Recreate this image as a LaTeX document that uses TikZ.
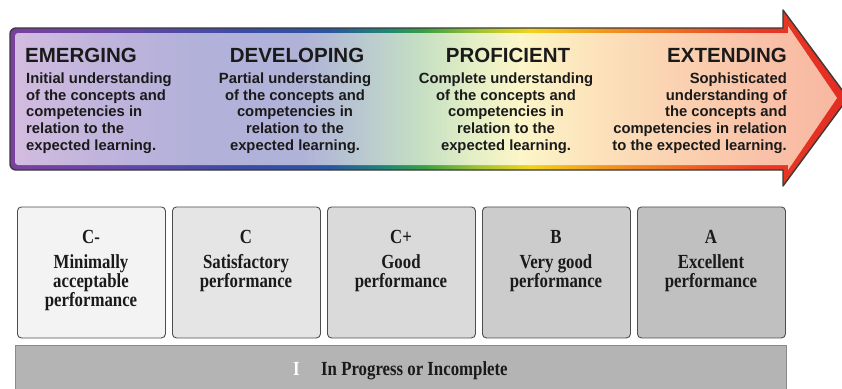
\documentclass[tikz,border=0pt]{standalone}
\usepackage{fontspec}
\setmainfont{Liberation Sans}
\newfontfamily\boxfont[FakeStretch=0.84]{Liberation Serif}
% rainbow border colours
\definecolor{r1}{HTML}{7B3F9E}
\definecolor{r2}{HTML}{6646A6}
\definecolor{r3}{HTML}{3A4CA3}
\definecolor{r4}{HTML}{2A56A0}
\definecolor{r5}{HTML}{1F8A70}
\definecolor{r6}{HTML}{3AA043}
\definecolor{r7}{HTML}{A2C332}
\definecolor{r8}{HTML}{F2D31B}
\definecolor{r9}{HTML}{F29A1E}
\definecolor{r10}{HTML}{EE6A24}
\definecolor{r11}{HTML}{E83A25}
\definecolor{r12}{HTML}{E32B22}
% pastel fill colours
\definecolor{p1}{HTML}{D6BDE0}
\definecolor{p2}{HTML}{C0B4DC}
\definecolor{p3}{HTML}{B2B1DA}
\definecolor{p4}{HTML}{B0B2D8}
\definecolor{p5}{HTML}{B9C8D0}
\definecolor{p6}{HTML}{C5DFC3}
\definecolor{p7}{HTML}{E2EEC5}
\definecolor{p8}{HTML}{FCF6C9}
\definecolor{p9}{HTML}{FCE6BE}
\definecolor{p10}{HTML}{FBD5B3}
\definecolor{p11}{HTML}{F9C2A8}
\definecolor{p12}{HTML}{F8B6A0}
\definecolor{textcol}{HTML}{1A1A1A}
\definecolor{outl}{HTML}{3A3A3A}
\definecolor{g1}{HTML}{F3F3F3}
\definecolor{g2}{HTML}{E5E5E5}
\definecolor{g3}{HTML}{DADADA}
\definecolor{g4}{HTML}{CCCCCC}
\definecolor{g5}{HTML}{C1C0C0}
\definecolor{boxline}{HTML}{4D4D4D}
\definecolor{barfill}{HTML}{B4B4B4}
\definecolor{barline}{HTML}{8A8A8A}
\begin{document}
\begin{tikzpicture}[x=1pt,y=-1pt,
  hdr/.style={font=\fontsize{20.5}{24}\selectfont\bfseries, text=textcol, inner sep=0pt},
  body/.style={font=\fontsize{14.8}{16.8}\selectfont\bfseries, text=textcol, inner sep=0pt},
  gbox/.style={draw=boxline, line width=0.9pt, rounded corners=4pt, minimum width=148pt, minimum height=131pt, inner sep=0pt},
  gtext/.style={font=\boxfont\fontsize{20}{19}\selectfont\bfseries, text=textcol, inner sep=0pt, align=center},
  outline/.style={draw=outl, line width=1.4pt, line join=round}]
\useasboundingbox (0,0) rectangle (842,388);
\fill[white] (0,0) rectangle (842,388);

% rainbow border band
\begin{scope}
\clip (10,100) [rounded corners=6pt] -- (10,28) -- (300,28) [sharp corners] -- (783,28) -- (783,10) -- (848,98) -- (783,186) -- (783,170) -- (300,170) [rounded corners=6pt] -- (10,170) -- cycle;
\foreach \xa/\ca/\xb/\cb in {0/r1/120/r2, 120/r2/250/r3, 250/r3/330/r4, 330/r4/390/r5, 390/r5/425/r6, 425/r6/480/r7, 480/r7/530/r8, 530/r8/600/r9, 600/r9/680/r10, 680/r10/760/r11, 760/r11/850/r12}
  \shade[left color=\ca, right color=\cb] (\xa-0.3,0) rectangle (\xb+0.3,200);
\end{scope}

% pastel interior
\begin{scope}
\clip (15,100) [rounded corners=3pt] -- (15,33) -- (300,33) [sharp corners] -- (788,33) -- (788,26) -- (837,98) -- (788,170) -- (788,165) -- (300,165) [rounded corners=3pt] -- (15,165) -- cycle;
\foreach \xa/\ca/\xb/\cb in {0/p1/100/p2, 100/p2/200/p3, 200/p3/300/p4, 300/p4/360/p5, 360/p5/420/p6, 420/p6/470/p7, 470/p7/520/p8, 520/p8/580/p9, 580/p9/660/p10, 660/p10/760/p11, 760/p11/850/p12}
  \shade[left color=\ca, right color=\cb] (\xa-0.3,0) rectangle (\xb+0.3,200);
\end{scope}

% outer outline
\draw[outline] (10,100) [rounded corners=6pt] -- (10,28) -- (300,28) [sharp corners] -- (783,28) -- (783,10) -- (848,98) -- (783,186) -- (783,170) -- (300,170) [rounded corners=6pt] -- (10,170) -- cycle;

% headings
\node[hdr, anchor=base west] (hEm) at (25,62) {EMERGING};
\node[hdr, anchor=base] (hDe) at (297,62) {DEVELOPING};
\node[hdr, anchor=base] (hPr) at (508,62) {PROFICIENT};
\node[hdr, anchor=base east] (hEx) at (787,62) {EXTENDING};

% descriptions
\node[body, anchor=north west, align=left] (dEm) at (26,72.3)
  {Initial understanding\\of the concepts and\\competencies in\\relation to the\\expected learning.};
\node[body, anchor=north, align=center] (dDe) at (295,72.3)
  {Partial understanding\\of the concepts and\\competencies in\\relation to the\\expected learning.};
\node[body, anchor=north, align=center] (dPr) at (506,72.3)
  {Complete understanding\\of the concepts and\\competencies in\\relation to the\\expected learning.};
\node[body, anchor=north east, align=right] (dEx) at (787,72.3)
  {Sophisticated\\understanding of\\the concepts and\\competencies in relation\\to the expected learning.};

% grade boxes
\node[gbox, fill=g1, anchor=north west] (b1) at (17,206.5) {};
\node[gbox, fill=g2, anchor=north west] (b2) at (172,206.5) {};
\node[gbox, fill=g3, anchor=north west] (b3) at (327,206.5) {};
\node[gbox, fill=g4, anchor=north west] (b4) at (482,206.5) {};
\node[gbox, fill=g5, anchor=north west] (b5) at (637,206.5) {};

\node[gtext, anchor=north] (t1) at (91,229.8) {C-\\[6pt]Minimally\\acceptable\\performance};
\node[gtext, anchor=north] (t2) at (246,229.8) {C\\[6pt]Satisfactory\\performance};
\node[gtext, anchor=north] (t3) at (401,229.8) {C+\\[6pt]Good\\performance};
\node[gtext, anchor=north] (t4) at (556,229.8) {B\\[6pt]Very good\\performance};
\node[gtext, anchor=north] (t5) at (711,229.8) {A\\[6pt]Excellent\\performance};

% in-progress bar
\node[draw=barline, fill=barfill, line width=1.2pt, minimum width=771pt, minimum height=52pt, inner sep=0pt, anchor=north west] (bar) at (15,344.5) {};
\node[gtext, anchor=base west, text=white] (iLbl) at (293,375) {I};
\node[gtext, anchor=base west] (iTxt) at (321,375) {In Progress or Incomplete};
\end{tikzpicture}
\end{document}
